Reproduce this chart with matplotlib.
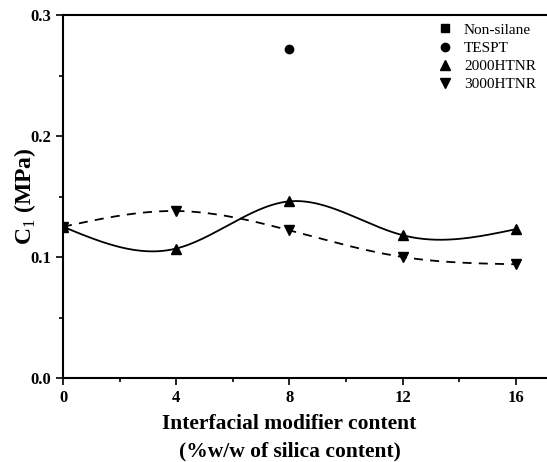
import matplotlib.pyplot as plt
import numpy as np
from matplotlib.ticker import MultipleLocator

plt.rcParams["font.family"] = ["Liberation Serif", "DejaVu Serif"]
plt.rcParams["mathtext.fontset"] = "custom"
plt.rcParams["mathtext.rm"] = "Liberation Serif"

x_non = [0]
c1_non = [0.125]
x_tespt = [8]
c1_tespt = [0.272]
x_htnr = [0, 4, 8, 12, 16]
c1_2000 = [0.125, 0.107, 0.146, 0.118, 0.123]
c1_3000 = [0.125, 0.138, 0.122, 0.100, 0.094]


def natural_spline(x, y, n=300):
    """Natural cubic spline through the points."""
    x = np.asarray(x, float)
    y = np.asarray(y, float)
    k = len(x)
    h = np.diff(x)
    a = np.zeros((k, k))
    b = np.zeros(k)
    a[0, 0] = a[-1, -1] = 1
    for i in range(1, k - 1):
        a[i, i - 1] = h[i - 1]
        a[i, i] = 2 * (h[i - 1] + h[i])
        a[i, i + 1] = h[i]
        b[i] = 6 * ((y[i + 1] - y[i]) / h[i] - (y[i] - y[i - 1]) / h[i - 1])
    m = np.linalg.solve(a, b)
    xs = np.linspace(x[0], x[-1], n)
    idx = np.clip(np.searchsorted(x, xs) - 1, 0, k - 2)
    x0, x1 = x[idx], x[idx + 1]
    hi = x1 - x0
    ys = (m[idx] * (x1 - xs) ** 3 / (6 * hi) + m[idx + 1] * (xs - x0) ** 3 / (6 * hi)
          + (y[idx] / hi - m[idx] * hi / 6) * (x1 - xs)
          + (y[idx + 1] / hi - m[idx + 1] * hi / 6) * (xs - x0))
    return xs, ys


fig = plt.figure(figsize=(5.47, 4.62), dpi=100)
ax = fig.add_axes([63 / 547, 84 / 462, 18 * 28.31 / 547, 363 / 462])

ax.plot(*natural_spline(x_htnr, c1_2000), color="black", lw=1.3)
ax.plot(*natural_spline(x_htnr, c1_3000), color="black", lw=1.3, ls=(0, (5, 4)))

ax.plot(x_non, c1_non, "s", color="black", ms=6, ls="none", label="Non-silane")
ax.plot(x_tespt, c1_tespt, "o", color="black", ms=6, ls="none", label="TESPT")
ax.plot(x_htnr, c1_2000, "^", color="black", ms=7, ls="none", label="2000HTNR")
ax.plot(x_htnr, c1_3000, "v", color="black", ms=7, ls="none", label="3000HTNR")

ax.set_xlim(0, 18)
ax.set_ylim(0, 0.3)
ax.set_xticks([0, 4, 8, 12, 16])
ax.xaxis.set_minor_locator(MultipleLocator(2))
ax.set_yticks([0.0, 0.1, 0.2, 0.3])
ax.set_yticklabels(["0.0", "0.1", "0.2", "0.3"])
ax.yaxis.set_minor_locator(MultipleLocator(0.05))
ax.tick_params(which="both", direction="out", width=1.2)
ax.tick_params(which="major", length=5, labelsize=12)
ax.tick_params(which="minor", length=3)
for lab in ax.get_xticklabels() + ax.get_yticklabels():
    lab.set_fontweight("bold")
for sp in ax.spines.values():
    sp.set_linewidth(1.5)

ax.set_xlabel("Interfacial modifier content\n(%w/w of silica content)",
              fontsize=15.5, fontweight="bold", linespacing=1.45)
ax.xaxis.set_label_coords(8 / 18, -0.1)
ax.xaxis.label.set_verticalalignment("top")
ax.set_ylabel("C$_{1}$ (MPa)", fontsize=17, fontweight="bold")
ax.yaxis.set_label_coords(-0.05, 0.5)

ax.legend(loc="upper left", bbox_to_anchor=(0.715, 0.995), frameon=False,
          fontsize=11, handletextpad=0.5, labelspacing=0.3, borderaxespad=0,
          handlelength=1.5)

fig.savefig("out.png", dpi=100)
